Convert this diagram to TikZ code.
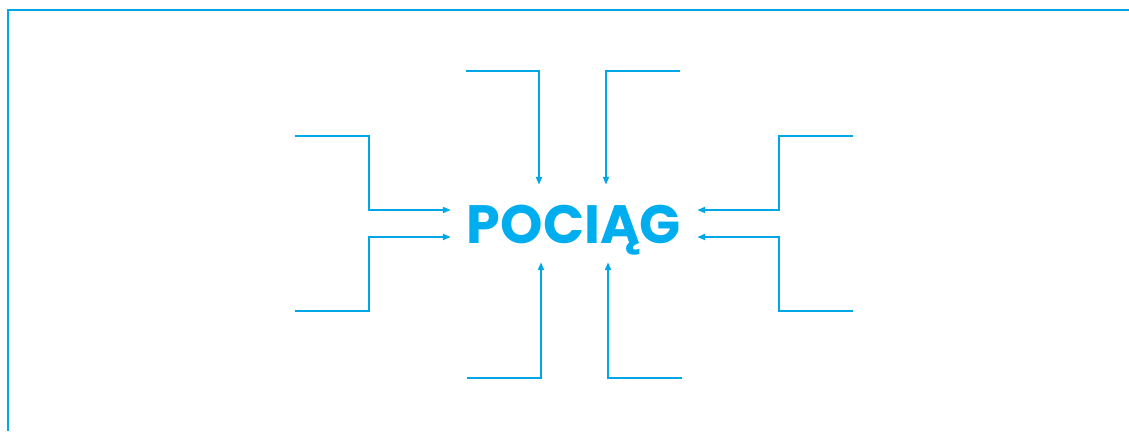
\documentclass[tikz,border=0pt]{standalone}
\usepackage{fontspec}
\setmainfont{Poppins}
\usetikzlibrary{arrows.meta}

\definecolor{framecyan}{RGB}{0,166,230}
\definecolor{titlecyan}{RGB}{0,174,239}

\begin{document}
\begin{tikzpicture}[%
    x=1pt, y=-1pt,                          % pixel-like units, y runs down
    >={Triangle[length=8pt,width=6pt]},     % Small solid arrow tips
    ]
% -------------------------------------------------
% Styles for the frame, the feeding lines and the title
\tikzset{
  line/.style={draw=framecyan, line width=1.9pt},
  feed/.style={line, ->},
  title/.style={font=\fontsize{54}{54}\selectfont\bfseries, text=titlecyan,
    minimum width=246pt, minimum height=77pt, inner sep=0pt,
    text height=39pt, text depth=0pt}
}
\useasboundingbox (0,0) rectangle (1129,431);
% -------------------------------------------------
% Frame
\draw[line, line width=2.4pt] (8,431) |- (1129,10);
% -------------------------------------------------
% Title in the middle
\node [title] (train) at (574,223.5) {POCIĄG};
% -------------------------------------------------
% Free ends of the feeding lines
\coordinate (lt) at (295,136);
\coordinate (lb) at (295,311);
\coordinate (rt) at (853,136);
\coordinate (rb) at (853,311);
\coordinate (tl) at (466,71);
\coordinate (tr) at (680,71);
\coordinate (bl) at (467,378);
\coordinate (br) at (682,378);
% -------------------------------------------------
% Left and right feeds
\draw[feed] (lt) -- ++(74,0) |- ([yshift=13.5pt]train.west);
\draw[feed] (lb) -- ++(74,0) |- ([yshift=-13.5pt]train.west);
\draw[feed] (rt) -- ++(-74,0) |- ([yshift=13.5pt]train.east);
\draw[feed] (rb) -- ++(-74,0) |- ([yshift=-13.5pt]train.east);
% Top and bottom feeds
\draw[feed] (tl) -| ([xshift=-35pt]train.north);
\draw[feed] (tr) -| ([xshift=32pt]train.north);
\draw[feed] (bl) -| ([xshift=-33pt]train.south);
\draw[feed] (br) -| ([xshift=34pt]train.south);
% -------------------------------------------------
\end{tikzpicture}
\end{document}
